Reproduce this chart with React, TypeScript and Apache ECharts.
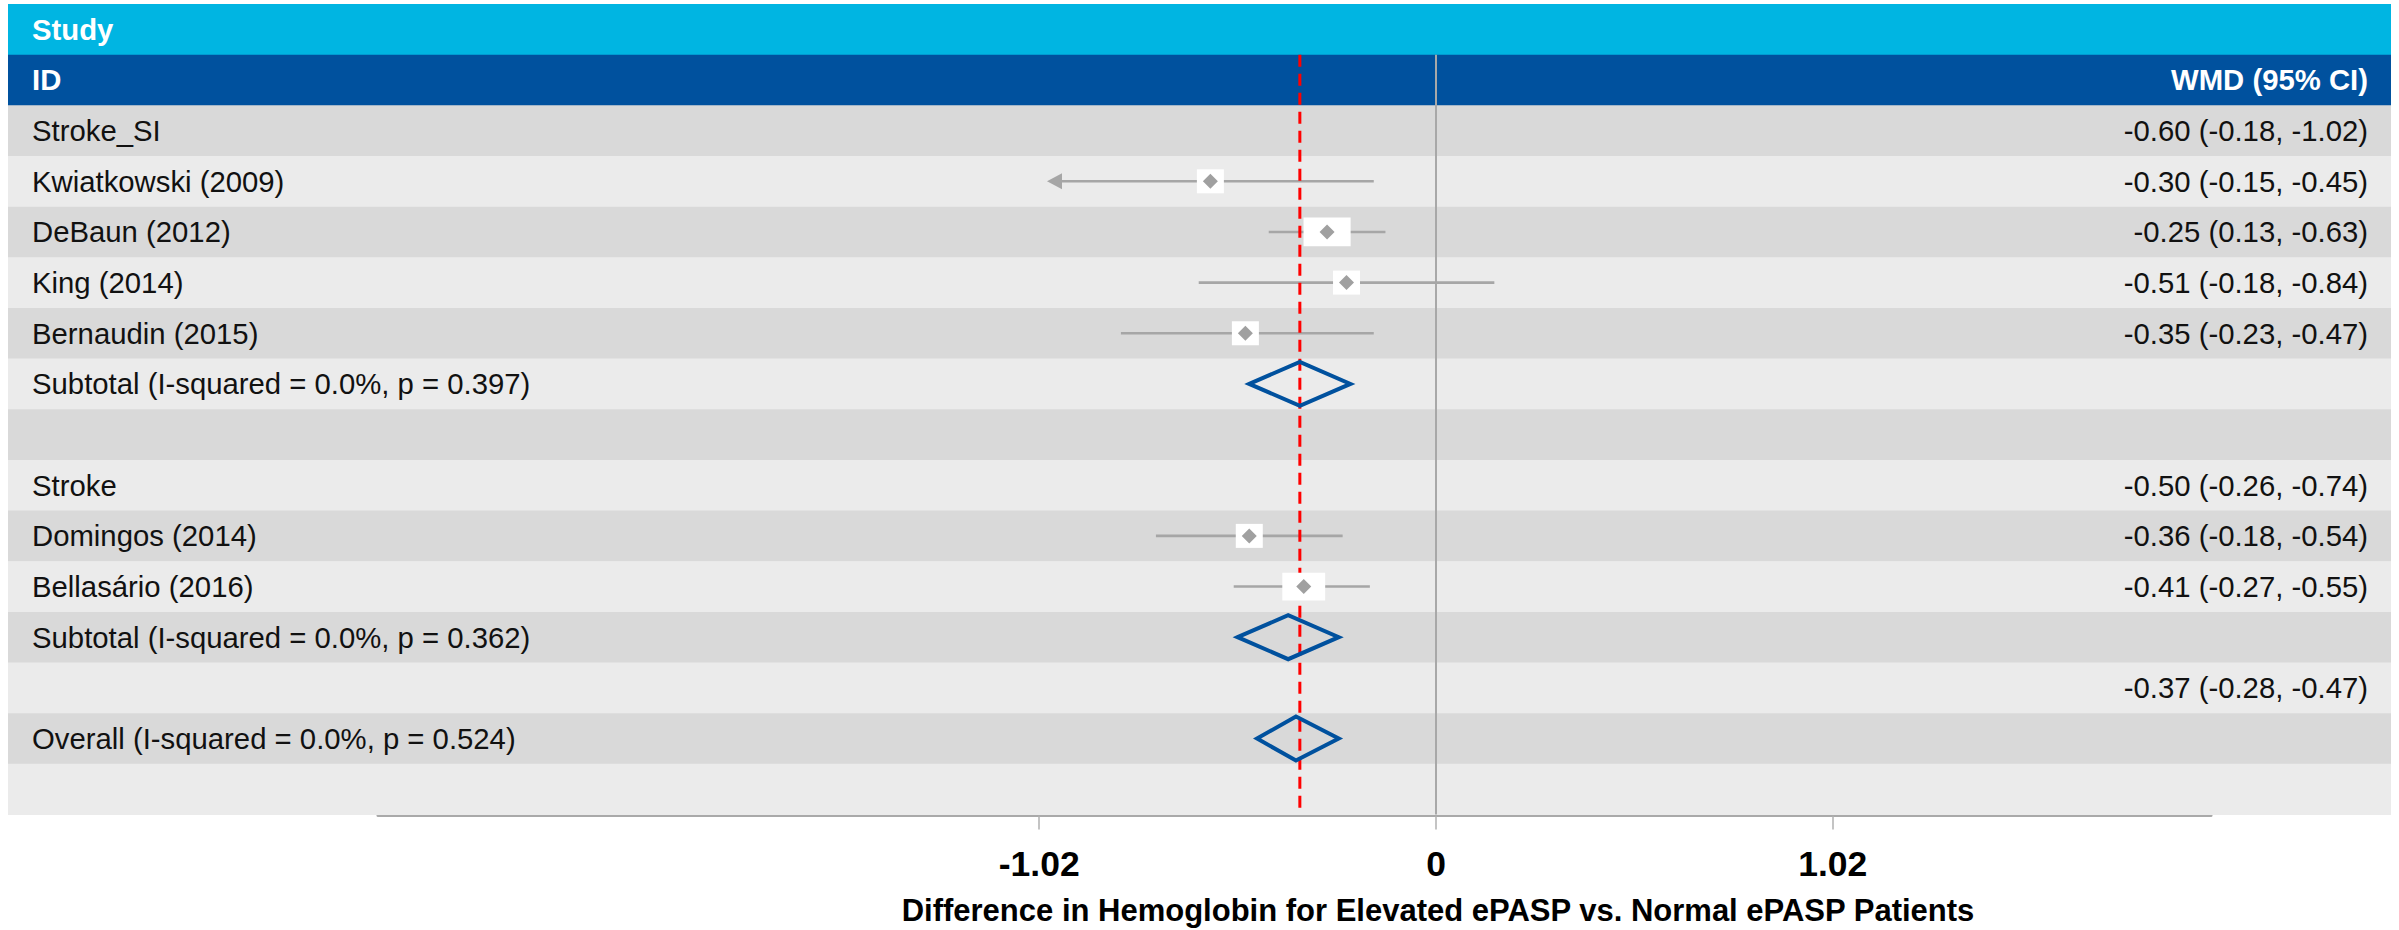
import React, { useEffect, useRef } from 'react';
import * as echarts from 'echarts';

// ---------------- DATA ----------------
const rowLabels = [
  'Study',
  'ID',
  'Stroke_SI',
  'Kwiatkowski (2009)',
  'DeBaun (2012)',
  'King (2014)',
  'Bernaudin (2015)',
  'Subtotal (I-squared = 0.0%, p = 0.397)',
  '',
  'Stroke',
  'Domingos (2014)',
  'Bellasário (2016)',
  'Subtotal (I-squared = 0.0%, p = 0.362)',
  '',
  'Overall (I-squared = 0.0%, p = 0.524)',
  '',
];
const wmdLabels = [
  '',
  'WMD (95% CI)',
  '-0.60 (-0.18, -1.02)',
  '-0.30 (-0.15, -0.45)',
  '-0.25 (0.13, -0.63)',
  '-0.51 (-0.18, -0.84)',
  '-0.35 (-0.23, -0.47)',
  '',
  '',
  '-0.50 (-0.26, -0.74)',
  '-0.36 (-0.18, -0.54)',
  '-0.41 (-0.27, -0.55)',
  '',
  '-0.37 (-0.28, -0.47)',
  '',
  '',
];

const studyNames = [
  'Kwiatkowski (2009)',
  'DeBaun (2012)',
  'King (2014)',
  'Bernaudin (2015)',
  'Domingos (2014)',
  'Bellasário (2016)',
];
const studyEst = [-0.58, -0.28, -0.23, -0.49, -0.48, -0.34];
const studyLo = [-1.0, -0.43, -0.61, -0.81, -0.72, -0.52];
const studyHi = [-0.16, -0.13, 0.15, -0.16, -0.24, -0.17];
const studyLoCensored = [true, false, false, false, false, false];
const studyWeight = [9.0, 15.7, 9.0, 9.0, 9.0, 14.3];

const pooledNames = [
  'Subtotal (I-squared = 0.0%, p = 0.397)',
  'Subtotal (I-squared = 0.0%, p = 0.362)',
  'Overall (I-squared = 0.0%, p = 0.524)',
];
const pooledEst = [-0.35, -0.38, -0.36];
const pooledLo = [-0.48, -0.51, -0.46];
const pooledHi = [-0.22, -0.25, -0.25];

const overallEffect = -0.35;
const nullEffect = 0;
const xTickValues = [-1.02, 0, 1.02];
const xAxisTitle = 'Difference in Hemoglobin for Elevated ePASP vs. Normal ePASP Patients';

// ---------------- LAYOUT / STYLE ----------------
const W = 2399;
const H = 930;
const FONT = '"Liberation Sans", Arial, Helvetica, sans-serif';
const GRID_LEFT = 8;
const GRID_RIGHT_EDGE = 2391;
const GRID_TOP = 4;
const GRID_BOTTOM = 814.5;
const ZERO_X = 1436;
const PX_PER_UNIT = 389;
const AXIS_LEFT = 378;
const AXIS_RIGHT = 2211;
const ROW_FONT = 29.3;

const STUDY_BG = '#00b5e2';
const ID_BG = '#00519e';
const ROW_DARK = '#d9d9d9';
const ROW_LIGHT = '#ebebeb';
const CI_COLOR = '#a6a6a6';
const MARK_COLOR = '#a0a0a0';
const DIAMOND_COLOR = '#00519e';

const x0min = (GRID_LEFT - ZERO_X) / PX_PER_UNIT;
const x0max = (GRID_RIGHT_EDGE - ZERO_X) / PX_PER_UNIT;
const x1min = (AXIS_LEFT - ZERO_X) / PX_PER_UNIT;
const x1max = (AXIS_RIGHT - ZERO_X) / PX_PER_UNIT;

const rowIndex = (name: string) => rowLabels.indexOf(name);
const lastRow = rowLabels.length - 1;

export default function App() {
  const ref = useRef<HTMLDivElement>(null);

  useEffect(() => {
    if (!ref.current) return;
    const chart = echarts.init(ref.current, undefined, { renderer: 'svg' });

    const refLine = (value: number, color: string, width: number, dash: number[] | null) => ({
      type: 'custom',
      xAxisIndex: 0,
      yAxisIndex: 0,
      encode: { x: 0, y: 1 },
      data: [[value, 1]],
      silent: true,
      renderItem: (params: any, api: any) => {
        const bw = api.size([0, 1])[1];
        const top = api.coord([api.value(0), 1]);
        const bot = api.coord([api.value(0), lastRow]);
        return {
          type: 'line',
          shape: { x1: top[0], y1: top[1] - bw / 2, x2: bot[0], y2: bot[1] + bw / 2 },
          style: { stroke: color, lineWidth: width, lineDash: dash || undefined },
        };
      },
    });

    const option: any = {
      animation: false,
      grid: [
        {
          left: GRID_LEFT,
          top: GRID_TOP,
          width: GRID_RIGHT_EDGE - GRID_LEFT,
          height: GRID_BOTTOM - GRID_TOP,
          outerBoundsMode: 'none',
        },
        {
          left: AXIS_LEFT,
          top: GRID_BOTTOM - 0.5,
          width: AXIS_RIGHT - AXIS_LEFT,
          height: 1.5,
          outerBoundsMode: 'none',
        },
      ],
      xAxis: [
        { gridIndex: 0, type: 'value', min: x0min, max: x0max, show: false },
        {
          gridIndex: 1,
          type: 'value',
          min: x1min,
          max: x1max,
          position: 'bottom',
          axisLine: { show: true, lineStyle: { color: '#a9a9a9', width: 3 } },
          axisTick: {
            show: true,
            customValues: xTickValues,
            length: 14,
            lineStyle: { color: '#b0b0b0', width: 1.5 },
          },
          axisLabel: {
            customValues: xTickValues,
            fontSize: 35.5,
            fontWeight: 'bold',
            color: '#000',
            fontFamily: FONT,
            margin: 30,
            formatter: (v: number) => String(v),
          },
          splitLine: { show: false },
        },
      ],
      yAxis: [
        {
          gridIndex: 0,
          type: 'category',
          inverse: true,
          data: rowLabels.map((_, i) => String(i)),
          axisLine: { show: false },
          axisTick: { show: false },
          splitLine: { show: false },
          z: 10,
          axisLabel: {
            inside: true,
            interval: 0,
            margin: 24,
            align: 'left',
            fontSize: ROW_FONT,
            color: '#111',
            fontFamily: FONT,
            formatter: (v: string) => {
              const i = Number(v);
              const t = rowLabels[i];
              return i < 2 ? `{h|${t}}` : t;
            },
            rich: { h: { fontWeight: 'bold', color: '#fff', fontSize: ROW_FONT, fontFamily: FONT } },
          },
        },
        {
          gridIndex: 0,
          type: 'category',
          inverse: true,
          position: 'right',
          data: rowLabels.map((_, i) => String(i)),
          axisLine: { show: false },
          axisTick: { show: false },
          splitLine: { show: false },
          z: 10,
          axisLabel: {
            inside: true,
            interval: 0,
            margin: 23,
            align: 'right',
            fontSize: ROW_FONT,
            color: '#111',
            fontFamily: FONT,
            formatter: (v: string) => {
              const i = Number(v);
              const t = wmdLabels[i];
              if (!t) return '';
              return i < 2 ? `{h|${t}}` : t;
            },
            rich: { h: { fontWeight: 'bold', color: '#fff', fontSize: ROW_FONT, fontFamily: FONT } },
          },
        },
        { gridIndex: 1, type: 'value', show: false },
      ],
      series: [
        // row backgrounds
        {
          type: 'custom',
          xAxisIndex: 0,
          yAxisIndex: 0,
          encode: { x: 0, y: 1 },
          silent: true,
          data: rowLabels.map((_, i) => [0, i]),
          renderItem: (params: any, api: any) => {
            const i = api.value(1);
            const cs = params.coordSys;
            const c = api.coord([0, i]);
            const bw = api.size([0, 1])[1];
            const fill = i === 0 ? STUDY_BG : i === 1 ? ID_BG : (i - 2) % 2 === 0 ? ROW_DARK : ROW_LIGHT;
            return {
              type: 'rect',
              shape: { x: cs.x, y: c[1] - bw / 2, width: cs.width, height: bw + 0.6 },
              style: { fill },
            };
          },
        },
        // null effect line
        refLine(nullEffect, '#a8a8a8', 2, null),
        // confidence intervals
        {
          type: 'custom',
          xAxisIndex: 0,
          yAxisIndex: 0,
          encode: { x: [0, 1], y: 2 },
          silent: true,
          data: studyNames.map((n, k) => [studyLo[k], studyHi[k], rowIndex(n), studyLoCensored[k] ? 1 : 0]),
          renderItem: (params: any, api: any) => {
            const row = api.value(2);
            const p0 = api.coord([api.value(0), row]);
            const p1 = api.coord([api.value(1), row]);
            const censored = api.value(3) === 1;
            const AL = 15;
            const AH = 8;
            const children: any[] = [
              {
                type: 'line',
                shape: { x1: censored ? p0[0] + AL : p0[0], y1: p0[1], x2: p1[0], y2: p1[1] },
                style: { stroke: CI_COLOR, lineWidth: 2.6 },
              },
            ];
            if (censored) {
              children.push({
                type: 'polygon',
                shape: {
                  points: [
                    [p0[0], p0[1]],
                    [p0[0] + AL, p0[1] - AH],
                    [p0[0] + AL, p0[1] + AH],
                  ],
                },
                style: { fill: CI_COLOR },
              });
            }
            return { type: 'group', children };
          },
        },
        // overall effect line
        refLine(overallEffect, '#ff0000', 3, [12, 7]),
        // weight boxes
        {
          type: 'scatter',
          xAxisIndex: 0,
          yAxisIndex: 0,
          symbol: 'rect',
          silent: true,
          itemStyle: { color: '#ffffff', opacity: 1 },
          data: studyNames.map((n, k) => ({
            value: [studyEst[k], rowIndex(n)],
            symbolSize: [studyWeight[k] * 3, 24 + (studyWeight[k] - 9) * 0.7],
          })),
        },
        // point estimates
        {
          type: 'scatter',
          xAxisIndex: 0,
          yAxisIndex: 0,
          symbol: 'diamond',
          symbolSize: 15,
          silent: true,
          itemStyle: { color: MARK_COLOR, opacity: 1 },
          data: studyNames.map((n, k) => [studyEst[k], rowIndex(n)]),
        },
        // pooled diamonds
        {
          type: 'custom',
          xAxisIndex: 0,
          yAxisIndex: 0,
          encode: { x: [0, 1, 2], y: 3 },
          silent: true,
          data: pooledNames.map((n, k) => [pooledLo[k], pooledEst[k], pooledHi[k], rowIndex(n)]),
          renderItem: (params: any, api: any) => {
            const row = api.value(3);
            const l = api.coord([api.value(0), row]);
            const m = api.coord([api.value(1), row]);
            const r = api.coord([api.value(2), row]);
            const hh = 22;
            return {
              type: 'polygon',
              shape: {
                points: [
                  [l[0], l[1]],
                  [m[0], m[1] - hh],
                  [r[0], r[1]],
                  [m[0], m[1] + hh],
                ],
              },
              style: { fill: 'none', stroke: DIAMOND_COLOR, lineWidth: 4 },
            };
          },
        },
      ],
      graphic: [
        {
          type: 'text',
          x: 1438,
          y: 910,
          z: 10,
          style: {
            text: xAxisTitle,
            fontSize: 31,
            fontWeight: 'bold',
            fontFamily: FONT,
            fill: '#000',
            textAlign: 'center',
            textVerticalAlign: 'middle',
          },
        },
      ],
    };

    chart.setOption(option);
    return () => chart.dispose();
  }, []);

  return (
    <div
      ref={ref}
      style={{ position: 'fixed', left: 0, top: 0, width: W, height: H, background: '#fff' }}
    />
  );
}
